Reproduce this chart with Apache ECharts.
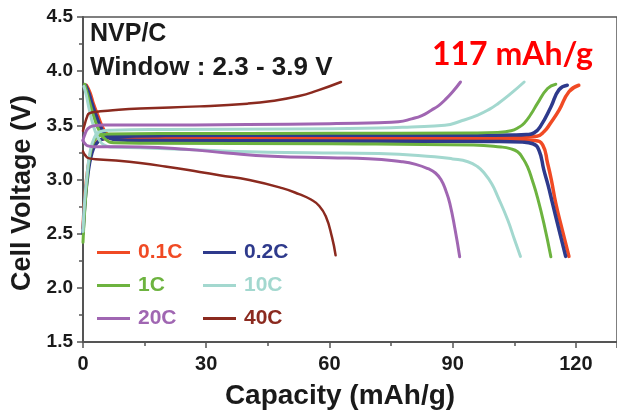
<!DOCTYPE html>
<html>
<head>
<meta charset="utf-8">
<script src="https://cdn.jsdelivr.net/npm/echarts@6/dist/echarts.min.js"></script>
<style>
  html, body { margin: 0; padding: 0; background: #fff; }
  #chart { width: 617px; height: 411px; }
</style>
</head>
<body>
<div id="chart"></div>
<script>
// Galvanostatic charge/discharge profiles of NVP/C at different C-rates.
// Each profile is a list of [capacity (mAh/g), voltage (V)] points.
const rates = ['0.1C', '0.2C', '1C', '10C', '20C', '40C'];
const rateColors = ['#F04A24', '#2E3A8C', '#6DB33F', '#A3D8CF', '#A066B2', '#8B2A1F'];
const lineWidths = [3.5, 3.5, 3, 3, 3, 2.5];

const charge01C = [[0,2.55],[0.5,2.85],[1.2,3.1],[2,3.25],[3,3.33],[4.5,3.37],[7,3.385],[20,3.39],[50,3.39],[80,3.39],[100,3.392],[108,3.395],[110.5,3.40],[112.2,3.44],[113.8,3.52],[115.9,3.64],[118.3,3.81],[120.7,3.87]];
const discharge01C = [[0.8,3.87],[1.7,3.80],[2.5,3.70],[3.7,3.58],[4.9,3.47],[6.1,3.41],[8,3.385],[15,3.38],[50,3.378],[90,3.375],[105,3.37],[110,3.36],[111.9,3.32],[113.1,3.15],[114,3.0],[115.1,2.78],[116.7,2.53],[118.3,2.29]];

const charge02C = [[0,2.5],[0.5,2.8],[1.2,3.05],[2,3.22],[3,3.32],[4.5,3.37],[7,3.395],[20,3.405],[60,3.408],[95,3.408],[105,3.41],[108,3.415],[109.8,3.43],[111.5,3.50],[113.9,3.67],[115.9,3.83],[117.9,3.87]];
const discharge02C = [[0.6,3.87],[1.4,3.80],[2.2,3.70],[3.3,3.58],[4.5,3.47],[5.8,3.40],[7.5,3.37],[15,3.36],[60,3.355],[100,3.35],[107,3.345],[109.5,3.33],[111,3.27],[112.2,3.087],[113.2,2.95],[114.3,2.78],[115.9,2.533],[117.5,2.29]];

const charge1C = [[0,2.42],[0.4,2.7],[1,3.0],[1.6,3.2],[2.6,3.35],[3.8,3.40],[6,3.42],[20,3.425],[60,3.426],[95,3.43],[101,3.435],[104.2,3.45],[106,3.48],[107.4,3.52],[109,3.60],[110.6,3.70],[113.1,3.84],[115.1,3.88]];
const discharge1C = [[0.4,3.88],[1.0,3.80],[1.7,3.70],[2.9,3.55],[4.1,3.44],[5.5,3.37],[7.5,3.34],[15,3.335],[60,3.33],[95,3.318],[101.8,3.30],[104,3.285],[105.8,3.256],[107,3.20],[108.2,3.118],[109.4,2.99],[110.6,2.84],[112.2,2.595],[113.9,2.287]];

const charge10C = [[0,2.52],[0.4,2.8],[1,3.05],[1.7,3.25],[2.7,3.38],[4,3.44],[6.5,3.455],[20,3.462],[50,3.466],[72,3.475],[80,3.485],[88.1,3.50],[92,3.54],[96.1,3.595],[99,3.65],[101,3.70],[104.2,3.795],[107.4,3.90]];
const discharge10C = [[0.2,3.86],[0.8,3.78],[1.5,3.65],[2.5,3.50],[3.6,3.39],[5,3.32],[7,3.30],[13.9,3.293],[30,3.27],[40.5,3.256],[55,3.248],[72,3.24],[85.6,3.21],[90,3.19],[93.7,3.164],[96,3.12],[97.7,3.057],[99.5,2.96],[101,2.84],[103.4,2.626],[105,2.45],[106.5,2.29]];

const charge20C = [[0,3.36],[0.5,3.42],[1.2,3.47],[2.5,3.495],[5,3.503],[14,3.503],[40,3.508],[60,3.515],[72,3.524],[76.8,3.533],[80,3.56],[82.5,3.59],[84.8,3.64],[86.5,3.68],[88.1,3.734],[90,3.81],[91.9,3.90]];
const discharge20C = [[0,3.36],[0.5,3.33],[1.2,3.31],[2.5,3.303],[5,3.302],[13.9,3.30],[25,3.28],[35,3.245],[46,3.215],[60,3.20],[69.5,3.192],[77.6,3.164],[81,3.14],[84,3.10],[85.8,3.06],[87.2,2.995],[88.3,2.90],[89.3,2.78],[90.6,2.533],[91.7,2.287]];

const charge40C = [[0,3.45],[0.5,3.52],[1,3.58],[1.5,3.61],[3.4,3.626],[6,3.635],[13.9,3.655],[28.4,3.675],[40,3.70],[46,3.725],[52.6,3.77],[57,3.82],[62.8,3.90]];
const discharge40C = [[0,3.26],[0.6,3.22],[1.5,3.195],[4,3.185],[8,3.175],[13.9,3.152],[20,3.12],[28.4,3.07],[33.2,3.04],[40.5,2.995],[48.5,2.92],[52.6,2.865],[55.5,2.815],[57.4,2.76],[59.1,2.66],[60.6,2.47],[61.5,2.30]];

const profiles = [
  [charge01C, discharge01C],
  [charge02C, discharge02C],
  [charge1C, discharge1C],
  [charge10C, discharge10C],
  [charge20C, discharge20C],
  [charge40C, discharge40C]
];

const xTicks = { min: 0, max: 130, interval: 30 };
const yTicks = { min: 1.5, max: 4.5, interval: 0.5 };

const axisColor = '#555';
const labelFont = 'Liberation Sans, Arial, sans-serif';

const series = [];
profiles.forEach((pair, i) => {
  pair.forEach(points => {
    series.push({
      name: rates[i],
      type: 'line',
      data: points,
      smooth: 0.5,
      symbol: 'none',
      color: rateColors[i],
      lineStyle: { width: lineWidths[i], color: rateColors[i], cap: 'round', join: 'round' },
      animation: false
    });
  });
});

function legendColumn(names, left) {
  return {
    orient: 'vertical',
    left: left,
    top: 242,
    padding: 0,
    itemGap: 12,
    itemWidth: 33,
    itemHeight: 3,
    icon: 'rect',
    selectedMode: false,
    textStyle: { fontFamily: labelFont, fontWeight: 'bold', fontSize: 21, padding: [0, 0, 0, 3] },
    data: names.map(n => ({
      name: n,
      itemStyle: { color: rateColors[rates.indexOf(n)] },
      textStyle: { color: rateColors[rates.indexOf(n)] }
    }))
  };
}

const chart = echarts.init(document.getElementById('chart'), null, { renderer: 'canvas' });
chart.setOption({
  backgroundColor: '#fff',
  animation: false,
  grid: { left: 83, top: 17, width: 537, height: 325, show: true, borderColor: axisColor, borderWidth: 1.5, backgroundColor: 'transparent' },
  xAxis: {
    type: 'value',
    min: xTicks.min, max: xTicks.max, interval: xTicks.interval,
    axisLine: { show: true, lineStyle: { color: axisColor, width: 2 } },
    axisTick: { show: true, length: 6, lineStyle: { color: axisColor, width: 1.5 } },
    minorTick: { show: true, splitNumber: 2, length: 4, lineStyle: { color: axisColor, width: 1.5 } },
    splitLine: { show: false },
    axisLabel: { showMaxLabel: false, margin: 12, color: '#1a1a1a', fontFamily: labelFont, fontWeight: 'bold', fontSize: 20 }
  },
  yAxis: {
    type: 'value',
    min: yTicks.min, max: yTicks.max, interval: yTicks.interval,
    axisLine: { show: true, lineStyle: { color: axisColor, width: 2 } },
    axisTick: { show: true, length: 6, lineStyle: { color: axisColor, width: 1.5 } },
    minorTick: { show: true, splitNumber: 2, length: 4, lineStyle: { color: axisColor, width: 1.5 } },
    splitLine: { show: false },
    axisLabel: { margin: 10, color: '#1a1a1a', fontFamily: labelFont, fontWeight: 'bold', fontSize: 19, formatter: v => v.toFixed(1) }
  },
  legend: [
    legendColumn(['0.1C', '1C', '20C'], 97),
    legendColumn(['0.2C', '10C', '40C'], 203)
  ],
  graphic: [
    { type: 'text', x: 90, y: 34, style: { text: 'NVP/C', font: 'bold 25px ' + labelFont, fill: '#1a1a1a', verticalAlign: 'middle' } },
    { type: 'text', x: 90, y: 68, style: { text: 'Window : 2.3 - 3.9 V', font: 'bold 26px ' + labelFont, fill: '#1a1a1a', verticalAlign: 'middle' } },
    { type: 'text', x: 432, y: 55, style: { text: '117 mAh/g', font: 'bold 32px Lato, "Open Sans", sans-serif', fill: '#FF0000', verticalAlign: 'middle' } },
    { type: 'text', x: 340, y: 396, style: { text: 'Capacity (mAh/g)', font: 'bold 28px ' + labelFont, fill: '#1a1a1a', align: 'center', verticalAlign: 'middle' } },
    { type: 'text', x: 23, y: 193, rotation: Math.PI / 2, style: { text: 'Cell Voltage (V)', font: 'bold 27px ' + labelFont, fill: '#1a1a1a', align: 'center', verticalAlign: 'middle' } }
  ],
  series: series
});
</script>
</body>
</html>
